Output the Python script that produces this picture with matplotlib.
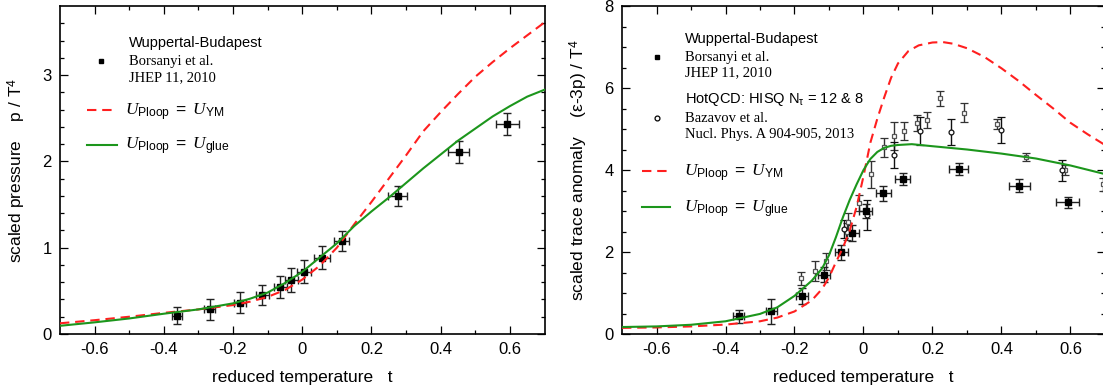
import matplotlib
matplotlib.use("Agg")
import matplotlib.pyplot as plt
from matplotlib.lines import Line2D
from matplotlib.transforms import Affine2D

plt.rcParams['font.family'] = ['Liberation Sans', 'DejaVu Sans']
plt.rcParams['mathtext.fontset'] = 'custom'
plt.rcParams['mathtext.rm'] = 'Liberation Sans'
plt.rcParams['mathtext.sf'] = 'Liberation Sans'
plt.rcParams['mathtext.it'] = 'Liberation Serif:italic'
plt.rcParams['axes.unicode_minus'] = False

# ---------------- data: left panel (pressure) ----------------
wb_t = [-0.362, -0.268, -0.179, -0.115, -0.064, -0.032, 0.006, 0.057, 0.114, 0.276, 0.452, 0.592]
wb_terr = [0.015, 0.016, 0.017, 0.018, 0.019, 0.019, 0.020, 0.022, 0.022, 0.028, 0.030, 0.033]
wb_p = [0.212, 0.286, 0.363, 0.452, 0.544, 0.626, 0.722, 0.884, 1.077, 1.60, 2.11, 2.43]
wb_perr = [0.10, 0.12, 0.12, 0.12, 0.13, 0.135, 0.13, 0.13, 0.12, 0.12, 0.13, 0.13]

curve_t_left = [-0.7, -0.6, -0.5, -0.4, -0.3, -0.2, -0.15, -0.1, -0.05, 0.0, 0.05, 0.1,
                0.15, 0.2, 0.25, 0.3, 0.35, 0.4, 0.45, 0.5, 0.55, 0.6, 0.65, 0.7]
p_ym = [0.124, 0.16, 0.2, 0.245, 0.285, 0.335, 0.375, 0.43, 0.51, 0.63, 0.79, 1.0,
        1.27, 1.53, 1.80, 2.07, 2.35, 2.57, 2.78, 2.98, 3.15, 3.31, 3.46, 3.61]
p_glue = [0.095, 0.135, 0.18, 0.235, 0.285, 0.355, 0.41, 0.48, 0.59, 0.72, 0.885, 1.05,
          1.25, 1.42, 1.58, 1.75, 1.92, 2.08, 2.24, 2.38, 2.52, 2.64, 2.75, 2.83]

# ---------------- data: right panel (trace anomaly) ----------------
wb_i = [0.43, 0.55, 0.93, 1.445, 1.99, 2.47, 2.99, 3.43, 3.78, 4.03, 3.62, 3.21]
wb_ierr = [0.15, 0.31, 0.19, 0.18, 0.18, 0.20, 0.17, 0.18, 0.15, 0.15, 0.16, 0.14]

hq12_t = [-0.182, -0.141, -0.109, -0.049, -0.045, -0.013, 0.021, 0.060, 0.089, 0.118,
          0.156, 0.184, 0.223, 0.292, 0.388, 0.470, 0.585, 0.694]
hq12_i = [1.36, 1.54, 1.77, 2.50, 2.74, 3.19, 3.90, 4.55, 4.83, 4.95,
          5.14, 5.22, 5.75, 5.40, 5.12, 4.31, 4.00, 3.65]
hq12_err = [0.16, 0.24, 0.20, 0.20, 0.20, 0.20, 0.33, 0.23, 0.35, 0.23,
            0.19, 0.20, 0.18, 0.23, 0.13, 0.10, 0.11, 0.15]

hq8_t = [-0.057, 0.009, 0.089, 0.163, 0.253, 0.400, 0.574]
hq8_i = [2.56, 2.91, 4.37, 4.95, 4.92, 4.98, 3.99]
hq8_err = [0.22, 0.37, 0.31, 0.34, 0.32, 0.32, 0.26]

curve_t_ym = [-0.7, -0.6, -0.5, -0.4, -0.3, -0.25, -0.2, -0.15, -0.12, -0.1, -0.08, -0.06,
              -0.04, -0.02, 0.0, 0.02, 0.04, 0.06, 0.08, 0.1, 0.13, 0.16, 0.2, 0.23, 0.26,
              0.3, 0.35, 0.4, 0.45, 0.5, 0.55, 0.6, 0.65, 0.7]
i_ym = [0.15, 0.16, 0.185, 0.23, 0.31, 0.40, 0.55, 0.82, 1.10, 1.38, 1.75, 2.10,
        2.52, 3.10, 3.85, 4.67, 5.25, 5.77, 6.25, 6.60, 6.90, 7.04, 7.11, 7.12, 7.08,
        6.97, 6.76, 6.48, 6.17, 5.83, 5.50, 5.15, 4.87, 4.61]
curve_t_glue = [-0.7, -0.6, -0.5, -0.4, -0.3, -0.25, -0.2, -0.15, -0.12, -0.1, -0.08, -0.06,
                -0.04, -0.02, 0.0, 0.02, 0.04, 0.06, 0.08, 0.1, 0.14, 0.2, 0.3, 0.4, 0.5,
                0.6, 0.7]
i_glue = [0.17, 0.185, 0.225, 0.31, 0.49, 0.65, 0.93, 1.30, 1.60, 1.92, 2.36, 2.84,
          3.27, 3.65, 4.0, 4.27, 4.44, 4.54, 4.59, 4.61, 4.63, 4.58, 4.50, 4.40, 4.28,
          4.11, 3.90]

xticks = [-0.6, -0.4, -0.2, 0, 0.2, 0.4, 0.6]
xticklabels = ['-0.6', '-0.4', '-0.2', '0', '0.2', '0.4', '0.6']

RED = '#ff1f1f'
GREEN = '#1c961c'

W, H = 1103, 389
fig = plt.figure(figsize=(W / 100, H / 100), dpi=100)
pix = Affine2D().scale(1.0 / W, -1.0 / H).translate(0, 1) + fig.transFigure


def axes_px(x0, y0, x1, y1):
    return fig.add_axes([x0 / W, 1 - y1 / H, (x1 - x0) / W, (y1 - y0) / H])


axL = axes_px(60, 6, 544.5, 334)
axR = axes_px(622, 6, 1105, 334)


def style(ax, ymax, ymajor, yminor, ylabel):
    ax.set_xlim(-0.7, 0.7)
    ax.set_ylim(0, ymax)
    ax.set_xticks(xticks)
    ax.set_xticklabels(xticklabels)
    ax.set_xticks([-0.5, -0.3, -0.1, 0.1, 0.3, 0.5], minor=True)
    ax.set_yticks(ymajor)
    ax.set_yticks(yminor, minor=True)
    ax.tick_params(which='both', direction='in', top=True, right=True, width=0.9)
    ax.tick_params(which='major', length=5.8, labelsize=12, pad=6)
    ax.tick_params(which='minor', length=2.9)
    for s in ax.spines.values():
        s.set_linewidth(1.2)
    ax.set_xlabel('reduced temperature   t', fontsize=12.5)
    ax.xaxis.set_label_coords(0.5, -0.11)
    ax.set_ylabel(ylabel, fontsize=12.5)
    ax.yaxis.set_label_coords(-0.066, 0.5)


MS = 3.8

# ---- left panel ----
style(axL, 3.8, [0, 1, 2, 3],
      [v / 5 for v in range(0, 19) if v % 5 != 0], 'scaled pressure    p / T$^4$')
axL.errorbar(wb_t, wb_p, xerr=wb_terr, yerr=wb_perr, fmt='s', ms=MS, mfc='k', mec='k',
             ecolor='#222222', elinewidth=1.0, capsize=3, capthick=1.0, zorder=3)
axL.plot(curve_t_left, p_ym, color=RED, lw=1.5, ls=(0, (4.5, 2.8)), zorder=4)
axL.plot(curve_t_left, p_glue, color=GREEN, lw=1.5, zorder=5)

# ---- right panel ----
style(axR, 8, [0, 2, 4, 6, 8], [v / 2 for v in range(0, 17) if v % 4 != 0],
      'scaled trace anomaly    (ε-3p) / T$^4$')
axR.errorbar(hq12_t, hq12_i, yerr=hq12_err, fmt='s', ms=3.2, mfc='white', mec='#555555',
             mew=0.9, ecolor='#333333', elinewidth=1.0, capsize=2.6, capthick=1.0, zorder=3)
axR.errorbar(hq8_t, hq8_i, yerr=hq8_err, fmt='o', ms=3.5, mfc='white', mec='#111111',
             mew=0.9, ecolor='#111111', elinewidth=1.0, capsize=2.6, capthick=1.0, zorder=3)
axR.errorbar(wb_t, wb_i, xerr=wb_terr, yerr=wb_ierr, fmt='s', ms=MS, mfc='k', mec='k',
             ecolor='#222222', elinewidth=1.0, capsize=3, capthick=1.0, zorder=3)
axR.plot(curve_t_ym, i_ym, color=RED, lw=1.5, ls=(0, (4.5, 2.8)), zorder=4)
axR.plot(curve_t_glue, i_glue, color=GREEN, lw=1.5, zorder=5)

# ---- legends (drawn in pixel coordinates) ----
serif = 'Liberation Serif'
UYM = r'$U_{\mathrm{Ploop}}\ =\ U_{\mathrm{YM}}$'
UGL = r'$U_{\mathrm{Ploop}}\ =\ U_{\mathrm{glue}}$'


def legend_block(xm, xt, ys):
    y0, y1, y2 = ys
    fig.text(xt / W, 1 - y0 / H, 'Wuppertal-Budapest', fontsize=10.5, va='center')
    fig.add_artist(Line2D([xm], [y1], transform=pix, marker='s', ms=3.3, color='k', ls=''))
    fig.text(xt / W, 1 - y1 / H, 'Borsanyi et al.', fontsize=10.5, va='center', family=serif)
    fig.text(xt / W, 1 - y2 / H, 'JHEP 11, 2010', fontsize=10.5, va='center', family=serif)


legend_block(101, 129, (43, 61, 78))
fig.add_artist(Line2D([87, 117], [110, 110], transform=pix, color=RED, lw=1.5, ls=(0, (4.5, 2.8))))
fig.add_artist(Line2D([87, 117], [145, 145], transform=pix, color=GREEN, lw=1.5))
fig.text(125 / W, 1 - 112 / H, UYM, fontsize=12.5, va='center')
fig.text(125 / W, 1 - 146 / H, UGL, fontsize=12.5, va='center')

legend_block(657, 685, (39, 57, 73))
fig.text(685 / W, 1 - 100 / H, r'HotQCD: HISQ N$_{\mathrm{τ}}$ = 12 & 8', fontsize=10.5, va='center')
fig.add_artist(Line2D([657], [118], transform=pix, marker='o', ms=3.5, mfc='white', mec='k',
                      mew=0.9, ls=''))
fig.text(685 / W, 1 - 118 / H, 'Bazavov et al.', fontsize=10.5, va='center', family=serif)
fig.text(685 / W, 1 - 134 / H, 'Nucl. Phys. A 904-905, 2013', fontsize=10.5, va='center', family=serif)
fig.add_artist(Line2D([642, 670], [171, 171], transform=pix, color=RED, lw=1.5, ls=(0, (4.5, 2.8))))
fig.add_artist(Line2D([642, 670], [207, 207], transform=pix, color=GREEN, lw=1.5))
fig.text(684 / W, 1 - 173 / H, UYM, fontsize=12.5, va='center')
fig.text(684 / W, 1 - 209 / H, UGL, fontsize=12.5, va='center')

fig.savefig('out.png', dpi=100)
